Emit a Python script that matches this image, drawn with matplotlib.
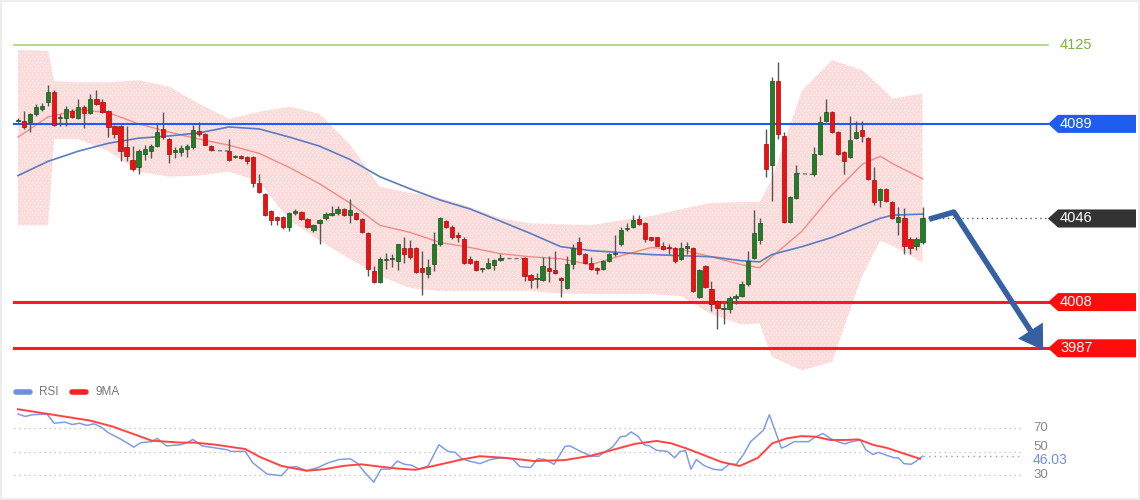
import numpy as np
import matplotlib

matplotlib.use("Agg")
import matplotlib.pyplot as plt  # noqa: E402
from matplotlib.patches import Polygon, FancyArrowPatch  # noqa: E402
from matplotlib.transforms import blended_transform_factory  # noqa: E402

plt.rcParams["font.family"] = ["Liberation Sans", "DejaVu Sans"]

# ---- candles (bar slot, open, high, low, close) ---------------------------
slots = list(range(0, 33)) + list(range(35, 81)) + list(range(84, 130)) + list(range(132, 151))
opens = [
    4090.4, 4090.4, 4089.9, 4093.6, 4095.9, 4099.1, 4103.7, 4091.5, 4091.8, 4095.0,
    4091.8, 4096.8, 4094.1, 4100.5, 4099.1, 4095.0, 4088.0, 4088.0, 4078.4, 4072.4,
    4069.2, 4075.2, 4076.6, 4078.9, 4086.7, 4082.1, 4076.1, 4076.1, 4077.5, 4078.4,
    4085.8, 4084.4, 4078.9,
    4076.6, 4073.8, 4074.3, 4073.8, 4073.8, 4062.3, 4057.2, 4049.4, 4046.6, 4046.6,
    4042.0, 4048.4, 4048.9, 4045.7, 4040.6, 4043.8, 4046.1, 4047.5, 4048.4, 4050.3,
    4047.5, 4048.4, 4045.7, 4039.2, 4022.2, 4017.1, 4027.3, 4027.7, 4026.8, 4032.8,
    4032.8, 4032.8, 4023.6, 4020.8, 4025.4, 4034.6, 4044.8, 4042.0, 4038.3, 4036.9,
    4027.7, 4026.8, 4022.9, 4023.6, 4025.0, 4027.3,
    4028.2, 4020.3, 4018.5, 4018.0, 4023.6, 4022.6, 4019.0, 4014.4, 4025.4, 4035.1,
    4030.0, 4025.9, 4023.6, 4023.1, 4026.8, 4030.0, 4034.2, 4041.1, 4042.0, 4045.7,
    4043.8, 4037.4, 4037.4, 4033.7, 4032.8, 4032.8, 4027.7, 4032.8, 4032.8, 4010.2,
    4024.5, 4013.9, 4008.4, 4004.7, 4004.7, 4009.7, 4010.7, 4016.2, 4028.2, 4036.0,
    4079.8, 4070.1, 4108.4, 4083.5, 4044.3, 4055.4,
    4066.0, 4075.2, 4090.4, 4094.5, 4085.3, 4076.1, 4073.8, 4082.5, 4086.2, 4082.5,
    4063.7, 4054.4, 4059.5, 4053.5, 4044.3, 4046.1, 4036.9, 4033.7, 4035.1,
]
highs = [
    4091.8, 4095.0, 4094.1, 4098.2, 4098.7, 4106.5, 4104.2, 4093.6, 4097.3, 4095.9,
    4100.5, 4097.7, 4102.8, 4104.2, 4100.1, 4095.5, 4088.5, 4088.5, 4088.0, 4078.9,
    4077.5, 4079.3, 4079.8, 4089.0, 4094.5, 4082.5, 4078.4, 4079.3, 4079.8, 4088.5,
    4089.9, 4084.9, 4079.3,
    4082.1, 4074.7, 4074.7, 4074.3, 4074.3, 4066.0, 4057.7, 4049.8, 4047.1, 4047.1,
    4048.9, 4050.3, 4049.4, 4046.1, 4043.4, 4045.7, 4048.9, 4051.7, 4051.7, 4050.8,
    4054.9, 4048.9, 4046.1, 4039.7, 4024.5, 4028.6, 4030.4, 4030.0, 4034.6, 4037.4,
    4036.0, 4033.2, 4031.4, 4027.7, 4039.7, 4046.6, 4045.2, 4042.9, 4039.7, 4037.4,
    4029.1, 4027.3, 4023.6, 4028.2, 4027.7, 4030.0,
    4028.6, 4020.8, 4021.3, 4028.6, 4029.1, 4031.4, 4019.4, 4029.1, 4034.6, 4037.4,
    4030.4, 4028.6, 4024.0, 4027.3, 4030.4, 4038.3, 4042.0, 4043.8, 4047.5, 4047.5,
    4044.3, 4037.8, 4037.8, 4035.5, 4034.2, 4033.2, 4035.1, 4035.5, 4033.2, 4023.0,
    4025.0, 4017.6, 4008.8, 4007.4, 4010.7, 4011.6, 4017.6, 4031.4, 4049.8, 4046.1,
    4086.7, 4110.2, 4117.1, 4085.3, 4056.3, 4070.1,
    4078.4, 4092.7, 4100.5, 4095.0, 4085.8, 4076.6, 4092.7, 4090.4, 4090.4, 4083.0,
    4069.6, 4059.9, 4059.9, 4054.0, 4051.2, 4050.8, 4037.4, 4037.4, 4051.2,
]
lows = [
    4089.9, 4086.7, 4085.3, 4092.7, 4095.0, 4097.3, 4088.0, 4088.0, 4088.0, 4091.8,
    4091.3, 4087.2, 4093.6, 4097.7, 4094.1, 4083.0, 4082.5, 4072.0, 4072.0, 4067.8,
    4066.0, 4072.4, 4073.3, 4078.4, 4082.1, 4071.0, 4073.3, 4074.3, 4073.8, 4077.5,
    4083.5, 4079.3, 4076.6,
    4072.0, 4073.3, 4072.9, 4070.6, 4060.4, 4057.7, 4047.0, 4042.9, 4042.9, 4041.1,
    4040.1, 4047.5, 4045.2, 4041.5, 4039.7, 4034.6, 4045.2, 4047.1, 4047.5, 4047.1,
    4043.8, 4045.2, 4039.2, 4019.9, 4016.7, 4016.7, 4023.1, 4024.0, 4022.6, 4025.9,
    4027.7, 4021.3, 4011.1, 4019.0, 4022.2, 4033.7, 4041.6, 4036.5, 4035.1, 4025.5,
    4025.4, 4022.2, 4021.7, 4023.1, 4022.6, 4026.8,
    4017.6, 4014.4, 4014.4, 4017.6, 4017.1, 4020.8, 4010.2, 4013.9, 4023.1, 4029.6,
    4025.4, 4022.6, 4020.8, 4022.6, 4026.3, 4029.1, 4033.7, 4040.1, 4041.5, 4043.0,
    4035.1, 4035.6, 4033.3, 4031.9, 4030.0, 4025.9, 4027.3, 4030.0, 4012.5, 4009.7,
    4014.4, 4003.8, 3995.9, 3998.2, 4002.9, 4007.0, 4010.2, 4015.3, 4027.7, 4034.6,
    4065.0, 4054.0, 4082.1, 4043.8, 4043.8, 4054.9,
    4065.5, 4074.7, 4089.9, 4084.9, 4074.7, 4066.0, 4073.3, 4082.1, 4080.7, 4063.6,
    4052.1, 4051.2, 4053.6, 4045.7, 4038.3, 4030.0, 4030.0, 4031.8, 4034.6,
]
closes = [
    4090.8, 4087.6, 4093.6, 4096.8, 4097.3, 4103.7, 4088.5, 4091.8, 4095.9, 4092.2,
    4096.8, 4094.1, 4100.1, 4098.2, 4094.5, 4087.6, 4084.4, 4076.6, 4074.3, 4068.7,
    4076.6, 4077.5, 4078.9, 4085.3, 4083.0, 4075.2, 4077.0, 4077.9, 4078.9, 4086.2,
    4084.4, 4079.3, 4077.0,
    4072.4, 4074.3, 4073.3, 4072.0, 4062.3, 4058.1, 4047.5, 4045.2, 4045.2, 4042.0,
    4048.4, 4049.4, 4045.7, 4042.0, 4042.9, 4045.2, 4048.0, 4048.4, 4050.3, 4047.5,
    4049.8, 4045.7, 4039.7, 4023.1, 4017.1, 4027.7, 4027.7, 4028.2, 4034.2, 4030.0,
    4028.6, 4021.7, 4021.7, 4024.0, 4034.6, 4046.1, 4042.0, 4037.4, 4037.4, 4025.9,
    4025.9, 4022.6, 4023.1, 4025.9, 4027.3, 4028.2,
    4019.9, 4018.0, 4018.7, 4024.5, 4022.2, 4021.3, 4018.0, 4025.4, 4032.8, 4030.0,
    4025.9, 4023.1, 4022.6, 4026.8, 4030.0, 4030.4, 4040.6, 4041.5, 4045.2, 4043.4,
    4036.9, 4036.0, 4033.7, 4032.3, 4032.5, 4026.8, 4032.8, 4033.0, 4013.0, 4022.6,
    4014.8, 4007.0, 4005.1, 4005.0, 4009.7, 4010.7, 4016.2, 4026.8, 4039.2, 4043.8,
    4068.3, 4108.4, 4084.4, 4044.3, 4055.8, 4066.5,
    4075.2, 4089.9, 4094.5, 4085.3, 4075.2, 4072.0, 4081.6, 4085.3, 4083.5, 4064.1,
    4053.5, 4059.5, 4054.0, 4046.1, 4046.6, 4033.7, 4032.8, 4036.9, 4046.1,
]

# ---- Bollinger bands and moving averages, read at these bar slots ----------
band_slots = [0, 5, 6, 10, 15, 20, 25, 30, 35, 40, 45, 50, 55, 60, 65, 70, 75, 80, 85,
              90, 95, 100, 105, 110, 115, 120, 123, 125, 130, 135, 140, 143, 145, 150]
bb_upper = [4122.6, 4122.2, 4108.4, 4107.9, 4107.9, 4108.8, 4106.0, 4098.2, 4091.3, 4094.5,
            4096.8, 4093.6, 4079.8, 4060.4, 4057.7, 4055.4, 4051.2, 4046.1, 4043.8, 4043.4,
            4042.9, 4045.2, 4047.1, 4050.3, 4053.1, 4053.5, 4053.5, 4063.7, 4104.2, 4118.0,
            4113.4, 4106.0, 4100.5, 4102.8]
bb_lower = [4042.9, 4042.9, 4082.1, 4082.1, 4076.6, 4067.3, 4065.0, 4065.5, 4067.3, 4062.7,
            4045.2, 4036.0, 4027.7, 4019.9, 4014.4, 4013.0, 4013.0, 4013.0, 4013.0, 4012.0,
            4011.6, 4011.6, 4011.6, 4010.7, 4002.4, 3997.8, 3998.2, 3983.1, 3977.0, 3980.8,
            4019.9, 4036.0, 4033.7, 4025.9]
bb_mid = [4083.0, 4092.2, 4092.7, 4095.5, 4094.1, 4089.0, 4085.3, 4082.1, 4079.3, 4075.6,
          4069.2, 4061.8, 4053.1, 4042.9, 4039.7, 4035.1, 4032.8, 4030.0, 4028.6, 4027.7,
          4025.0, 4029.1, 4032.8, 4031.9, 4028.6, 4025.0, 4023.6, 4028.6, 4040.2, 4056.7,
          4070.6, 4074.3, 4071.0, 4064.1]
ma_slow = [4065.5, 4072.0, 4072.9, 4076.6, 4080.2, 4082.5, 4083.5, 4084.9, 4087.6, 4086.7,
           4083.0, 4078.9, 4072.9, 4065.0, 4059.5, 4054.4, 4050.3, 4044.8, 4039.2, 4033.2,
           4031.4, 4030.5, 4029.6, 4029.1, 4028.6, 4026.8, 4026.3, 4029.6, 4033.2, 4037.4,
           4042.9, 4046.1, 4047.5, 4048.0]

# ---- levels -------------------------------------------------------------
target_level = 4125
resist_level = 4089
last_price = 4046
support_levels = [4008, 3987]
forecast_price = [4045.7, 4048.9, 3986.2]
forecast_slot = [151.1, 155.2, 170.0]

# ---- RSI panel ----------------------------------------------------------
rsi_slots = [0.0, 1.2, 2.4, 4.8, 6.0, 7.8, 9.0, 10.2, 11.4, 12.6, 13.8, 15.0, 16.8, 18.0, 19.2,
             20.4, 22.2, 23.1, 24.6, 26.9, 28.1, 29.0, 30.5, 32.9, 34.7, 35.3, 37.7, 38.9, 41.3,
             43.7, 44.9, 46.1, 47.9, 49.7, 51.5, 53.3, 55.1, 56.3, 57.5, 59.0, 60.2, 61.7, 62.9,
             64.1, 65.3, 66.5, 68.0, 69.8, 71.3, 72.5, 73.6, 74.8, 76.6, 78.4, 80.2, 82.0, 83.2,
             85.0, 86.2, 87.4, 88.9, 90.7, 91.5, 93.3, 95.1, 96.3, 97.5, 98.7, 99.9, 100.8, 101.7,
             102.9, 103.8, 104.7, 105.9, 107.7, 108.9, 109.8, 110.7, 111.6, 112.5, 113.7, 115.2,
             116.7, 117.9, 119.1, 120.3, 121.5, 122.7, 123.6, 124.6, 126.6, 127.5, 128.7, 131.1,
             132.3, 133.5, 134.7, 135.9, 137.1, 138.3, 139.7, 140.6, 141.8, 142.7, 144.2, 145.4,
             146.0, 146.9, 148.1, 149.0, 150.0]
rsi_vals = [81.9, 79.9, 81.3, 81.9, 74.1, 75.0, 73.0, 74.1, 72.2, 73.6, 70.8, 65.9, 61.2, 57.6, 53.7,
            57.6, 58.4, 61.2, 54.8, 55.7, 57.6, 60.3, 54.8, 52.9, 51.5, 50.1, 50.1, 40.5, 30.8,
            29.4, 36.3, 37.2, 33.6, 36.3, 40.5, 43.2, 43.8, 39.9, 32.2, 23.9, 35.0, 35.0, 41.9,
            39.1, 38.3, 35.0, 37.7, 55.7, 50.1, 49.3, 43.8, 41.9, 39.7, 43.2, 44.6, 43.8, 37.2,
            36.3, 43.8, 43.2, 39.1, 54.3, 54.8, 50.1, 46.0, 46.0, 50.1, 54.3, 62.6, 63.1, 66.7,
            62.6, 55.7, 54.8, 51.0, 50.1, 44.6, 50.1, 50.7, 35.0, 43.2, 38.3, 35.0,
            34.1, 39.1, 39.1, 47.4, 58.4, 63.9, 68.1, 81.3, 52.9, 54.8, 58.4, 58.4,
            62.6, 65.3, 61.2, 58.4, 56.5, 58.4, 59.8, 51.5, 47.4, 49.3, 46.5, 44.6,
            44.6, 39.7, 39.1, 41.9, 46.03]
ma9_slots = [0.0, 5.1, 12.0, 15.6, 19.2, 22.2, 26.9, 29.3, 32.9, 37.7, 40.1, 43.7, 47.9, 50.9,
             53.9, 56.9, 59.9, 62.9, 65.9, 68.9, 73.6, 76.6, 80.8, 85.6, 90.7, 95.1, 98.7, 102.3,
             105.9, 108.3, 110.7, 113.1, 116.7, 119.7, 122.7, 125.1, 127.5, 129.9, 132.3, 134.7,
             137.1, 139.4, 141.8, 144.2, 146.6, 149.6]
ma9_vals = [86.0, 81.9, 76.3, 71.4, 64.8, 59.2, 57.6, 57.6, 55.7, 52.1, 45.4, 37.7, 33.6, 35.0,
            37.7, 39.1, 37.2, 35.5, 34.4, 37.7, 43.2, 46.0, 44.6, 41.9, 42.7, 46.5, 51.5, 56.5,
            59.0, 57.0, 52.9, 48.2, 41.0, 37.7, 44.6, 57.0, 61.2, 63.1, 62.6, 59.8,
            59.8, 60.3, 55.7, 52.9, 48.8, 43.8]
rsi_guides = [70, 50, 30]
rsi_last = 46.03

# ---- layout (pixels of the 1140x500 canvas) --------------------------------
W, H = 1140, 500
X0, DX = 18.0, 6.03             # pixel of slot 0, pixels per slot
PPU = 0.4544                    # price units per pixel in the top panel
LINE_L, TAG_TIP = 14, 1048
GREEN_UP, RED_DN = "#1f7f25", "#f01010"


def px(x):
    return x / W


fig = plt.figure(figsize=(W / 100, H / 100), dpi=100)
fig.patch.set_facecolor("white")
fig.patch.set_edgecolor("#ececec")
fig.patch.set_linewidth(1.5)
xlim = (-X0 / DX, (W - X0) / DX)

ax = fig.add_axes([0, 0.24, 1, 0.76])
ax.set_xlim(*xlim)
ax.set_ylim(3972.6, 4145.3)
ax.axis("off")

# bollinger envelope with a fine dotted white texture
band = ax.fill_between(band_slots, bb_lower, bb_upper, facecolor="#fcdcda", edgecolor="none",
                       linewidth=0, zorder=1)
gx, gy = np.meshgrid(np.arange(-1, 152, 4 / DX), np.arange(3970, 4130, 3 * PPU))
gx = gx + (np.arange(gx.shape[0])[:, None] % 2) * (2 / DX)
dots = ax.scatter(gx.ravel(), gy.ravel(), s=0.7, color="white", linewidths=0, alpha=0.9, zorder=1.5)
dots.set_clip_path(band.get_paths()[0], ax.transData)
ax.plot(band_slots, bb_mid, color="#f28b86", lw=1.0, zorder=2)
ax.plot(band_slots, ma_slow, color="#5b7bc4", lw=1.2, zorder=2)

tr = blended_transform_factory(ax.transAxes, ax.transData)
ax.plot([px(LINE_L), px(TAG_TIP)], [target_level] * 2, color="#a5d47a", lw=1.2, transform=tr)
ax.plot([px(LINE_L), px(TAG_TIP)], [resist_level] * 2, color="#1a5cff", lw=1.5, transform=tr, zorder=3)
for lv in support_levels:
    ax.plot([px(LINE_L), px(TAG_TIP)], [lv] * 2, color="#ff1a1a", lw=2.2, transform=tr, zorder=3)
ax.plot([slots[-1], (TAG_TIP - X0) / DX], [last_price] * 2, color="#555555", lw=1,
        ls=(0, (1, 2.5)), zorder=3)

# candles
s = np.array(slots, float)
o, h, l, c = map(np.array, (opens, highs, lows, closes))
up = c >= o
ax.vlines(s, l, h, color="#555555", lw=1.0, zorder=4)
body_lo = np.minimum(o, c)
body_h = np.maximum(np.abs(c - o), 0.5)
ax.bar(s[up], body_h[up], bottom=body_lo[up], width=0.7, color=GREEN_UP,
       edgecolor="#1b4d1e", linewidth=0.5, zorder=5)
ax.bar(s[~up], body_h[~up], bottom=body_lo[~up], width=0.7, color=RED_DN,
       edgecolor="#9a1010", linewidth=0.5, zorder=5)
# dashed joins across the missing sessions
for i in range(1, len(slots)):
    if slots[i] - slots[i - 1] > 1:
        ax.plot([slots[i - 1], slots[i]], [closes[i - 1], opens[i]], color="#777777",
                lw=1, ls=(0, (3, 2)), zorder=4)

# forecast arrow
ax.plot(forecast_slot[:2], forecast_price[:2], color="#3561a3", lw=4, solid_capstyle="butt", zorder=6)
ax.add_patch(FancyArrowPatch((forecast_slot[1], forecast_price[1]), (forecast_slot[2], forecast_price[2]),
                             arrowstyle="-|>,head_length=11,head_width=7", color="#3561a3", lw=4,
                             shrinkA=0, shrinkB=0, joinstyle="miter", zorder=6))


def tag(level, color, text):
    hh = 4.1
    pts = [(px(TAG_TIP), level), (px(1058), level + hh), (px(1136), level + hh),
           (px(1136), level - hh), (px(1058), level - hh)]
    ax.add_patch(Polygon(pts, closed=True, transform=tr, facecolor=color, edgecolor="none", zorder=7))
    ax.text(px(1060), level, text, transform=tr, color="white", fontsize=10.5,
            va="center", ha="left", zorder=8)


ax.text(px(1060), target_level, str(target_level), transform=tr, color="#7cb342",
        fontsize=10.5, va="center", ha="left")
tag(resist_level, "#1f5cf0", str(resist_level))
tag(last_price, "#333333", str(last_price))
for lv in support_levels:
    tag(lv, "#ff0d0d", str(lv))

# ---- RSI panel ------------------------------------------------------------
rx = fig.add_axes([0, 0, 1, 0.24])
rx.set_xlim(*xlim)
rx.set_ylim(8.7, 110.9)
rx.axis("off")
rtr = blended_transform_factory(rx.transAxes, rx.transData)
for g in rsi_guides:
    rx.plot([px(LINE_L), px(1022)], [g] * 2, color="#bbbbbb", lw=0.9, ls=(0, (1, 3)), transform=rtr)
    rx.text(px(1033), g + (3.8 if g == 50 else 0), str(g), transform=rtr, color="#888888",
            fontsize=9.5, va="center", ha="left")
rx.plot(rsi_slots, rsi_vals, color="#7f9de6", lw=1.1, zorder=3)
rx.plot(ma9_slots, ma9_vals, color="#ff4444", lw=1.4, zorder=4)
rx.plot([rsi_slots[-1], (1022 - X0) / DX], [rsi_last] * 2, color="#7f9de6", lw=1,
        ls=(0, (1, 3)))
rx.text(px(1033), rsi_last - 3.5, f"{rsi_last:.2f}", transform=rtr, color="#6f8fe0", fontsize=10,
        va="center", ha="left", zorder=5)

# legend swatches
for x_sw, col, lab in [(16, "#6f8fe0", "RSI"), (72, "#ff2020", "9MA")]:
    rx.plot([px(x_sw), px(x_sw + 14)], [100.5] * 2, color=col, lw=4, solid_capstyle="round",
            transform=rtr)
    rx.text(px(x_sw + 23), 100.5, lab, transform=rtr, color="#777777", fontsize=8.5,
            va="center", ha="left")

fig.savefig("out.png", dpi=100)
